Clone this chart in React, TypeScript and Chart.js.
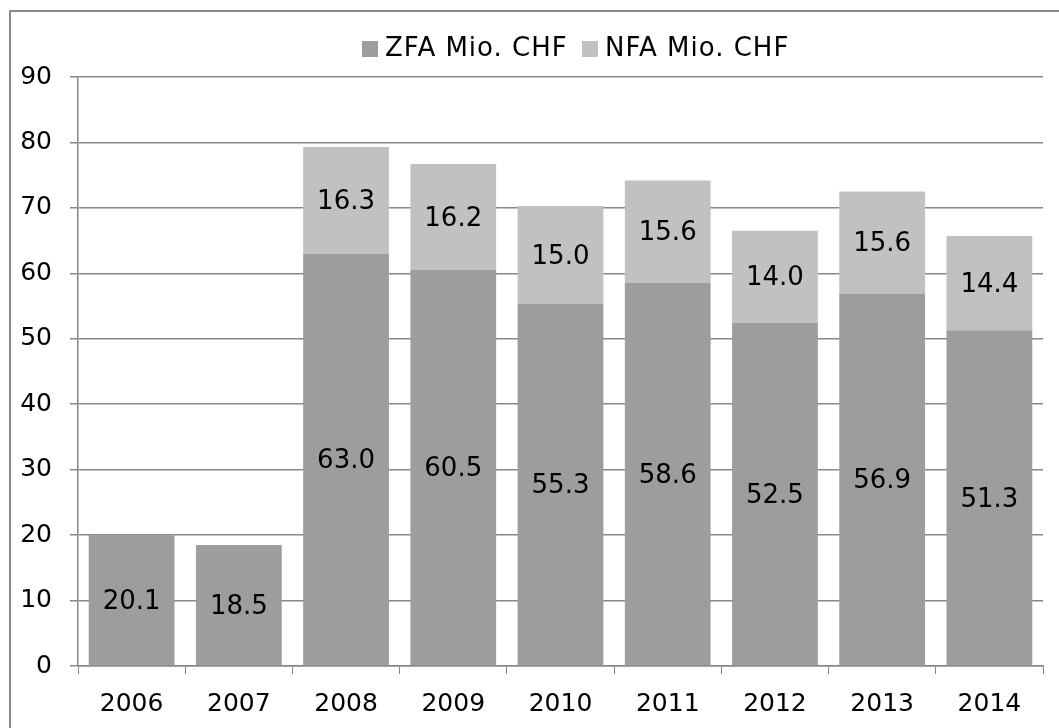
import React, { useEffect, useRef } from "react";
import { Chart, registerables } from "chart.js";

Chart.register(...registerables);

const years = ["2006", "2007", "2008", "2009", "2010", "2011", "2012", "2013", "2014"];
const zfaValues = [20.1, 18.5, 63.0, 60.5, 55.3, 58.6, 52.5, 56.9, 51.3];
const nfaValues = [null, null, 16.3, 16.2, 15.0, 15.6, 14.0, 15.6, 14.4];
const seriesLabels = ["ZFA Mio. CHF", "NFA Mio. CHF"];
const seriesColors = ["#9d9d9d", "#c1c1c1"];

const FONT = "'DejaVu Sans', sans-serif";
const GRID = "#888888";

const framePlugin = {
  id: "frame",
  beforeDraw(chart: any) {
    const ctx = chart.ctx;
    ctx.save();
    ctx.fillStyle = "#ffffff";
    ctx.fillRect(0, 0, chart.width, chart.height);
    ctx.strokeStyle = "#8a8a8a";
    ctx.lineWidth = 2;
    ctx.strokeRect(10, 11, 1100, 800);
    ctx.restore();
  },
};

const legendPlugin = {
  id: "customLegend",
  afterDraw(chart: any) {
    const ctx = chart.ctx;
    ctx.save();
    ctx.font = `26px ${FONT}`;
    try {
      (ctx as any).letterSpacing = "1px";
    } catch (e) {}
    ctx.textBaseline = "middle";
    ctx.textAlign = "left";
    const starts = [362, 582];
    chart.data.datasets.forEach((ds: any, i: number) => {
      const x = starts[i];
      ctx.fillStyle = ds.backgroundColor;
      ctx.fillRect(x, 41, 16, 16);
      ctx.fillStyle = "#000000";
      ctx.fillText(ds.label, x + 23, 49);
    });
    ctx.restore();
  },
};

const dataLabelPlugin = {
  id: "segLabels",
  afterDatasetsDraw(chart: any) {
    const ctx = chart.ctx;
    ctx.save();
    ctx.font = `26px ${FONT}`;
    ctx.fillStyle = "#000000";
    ctx.textAlign = "center";
    ctx.textBaseline = "middle";
    chart.data.datasets.forEach((ds: any, di: number) => {
      const meta = chart.getDatasetMeta(di);
      meta.data.forEach((el: any, i: number) => {
        const v = ds.data[i];
        if (v === null || v === undefined) return;
        const { x, y, base } = el.getProps(["x", "y", "base"], true);
        ctx.fillText(v.toFixed(1), x, (y + base) / 2 + 2);
      });
    });
    ctx.restore();
  },
};

export default function App() {
  const ref = useRef<HTMLCanvasElement | null>(null);
  useEffect(() => {
    if (!ref.current) return;
    const chart = new Chart(ref.current, {
      type: "bar",
      data: {
        labels: years,
        datasets: [
          {
            label: seriesLabels[0],
            data: zfaValues,
            backgroundColor: seriesColors[0],
            categoryPercentage: 1,
            barPercentage: 0.8,
          },
          {
            label: seriesLabels[1],
            data: nfaValues as any,
            backgroundColor: seriesColors[1],
            categoryPercentage: 1,
            barPercentage: 0.8,
          },
        ],
      },
      options: {
        responsive: false,
        animation: false,
        devicePixelRatio: 1,
        layout: { padding: { left: 0, right: 16, top: 77, bottom: 0 } },
        plugins: {
          legend: { display: false },
          tooltip: { enabled: false },
        },
        scales: {
          x: {
            stacked: true,
            grid: {
              offset: true,
              drawOnChartArea: false,
              color: GRID,
              tickLength: 8,
            },
            border: { color: GRID, width: 1.5 },
            ticks: {
              color: "#000000",
              font: { family: FONT, size: 25 },
              padding: 15,
              maxRotation: 0,
            },
            afterFit: (s: any) => {
              s.height = 62;
            },
          },
          y: {
            stacked: true,
            min: 0,
            max: 90,
            ticks: {
              stepSize: 10,
              color: "#000000",
              font: { family: FONT, size: 25 },
              padding: 18,
            },
            grid: { color: GRID, tickLength: 8, lineWidth: 1.5 },
            border: { color: GRID, width: 1.5 },
            afterFit: (s: any) => {
              s.width = 78;
            },
          },
        },
      },
      plugins: [framePlugin, dataLabelPlugin, legendPlugin],
    });
    return () => chart.destroy();
  }, []);
  return (
    <div style={{ position: "absolute", left: 0, top: 0, width: 1059, height: 728 }}>
      <canvas ref={ref} width={1059} height={728} style={{ width: 1059, height: 728, display: "block" }} />
    </div>
  );
}
